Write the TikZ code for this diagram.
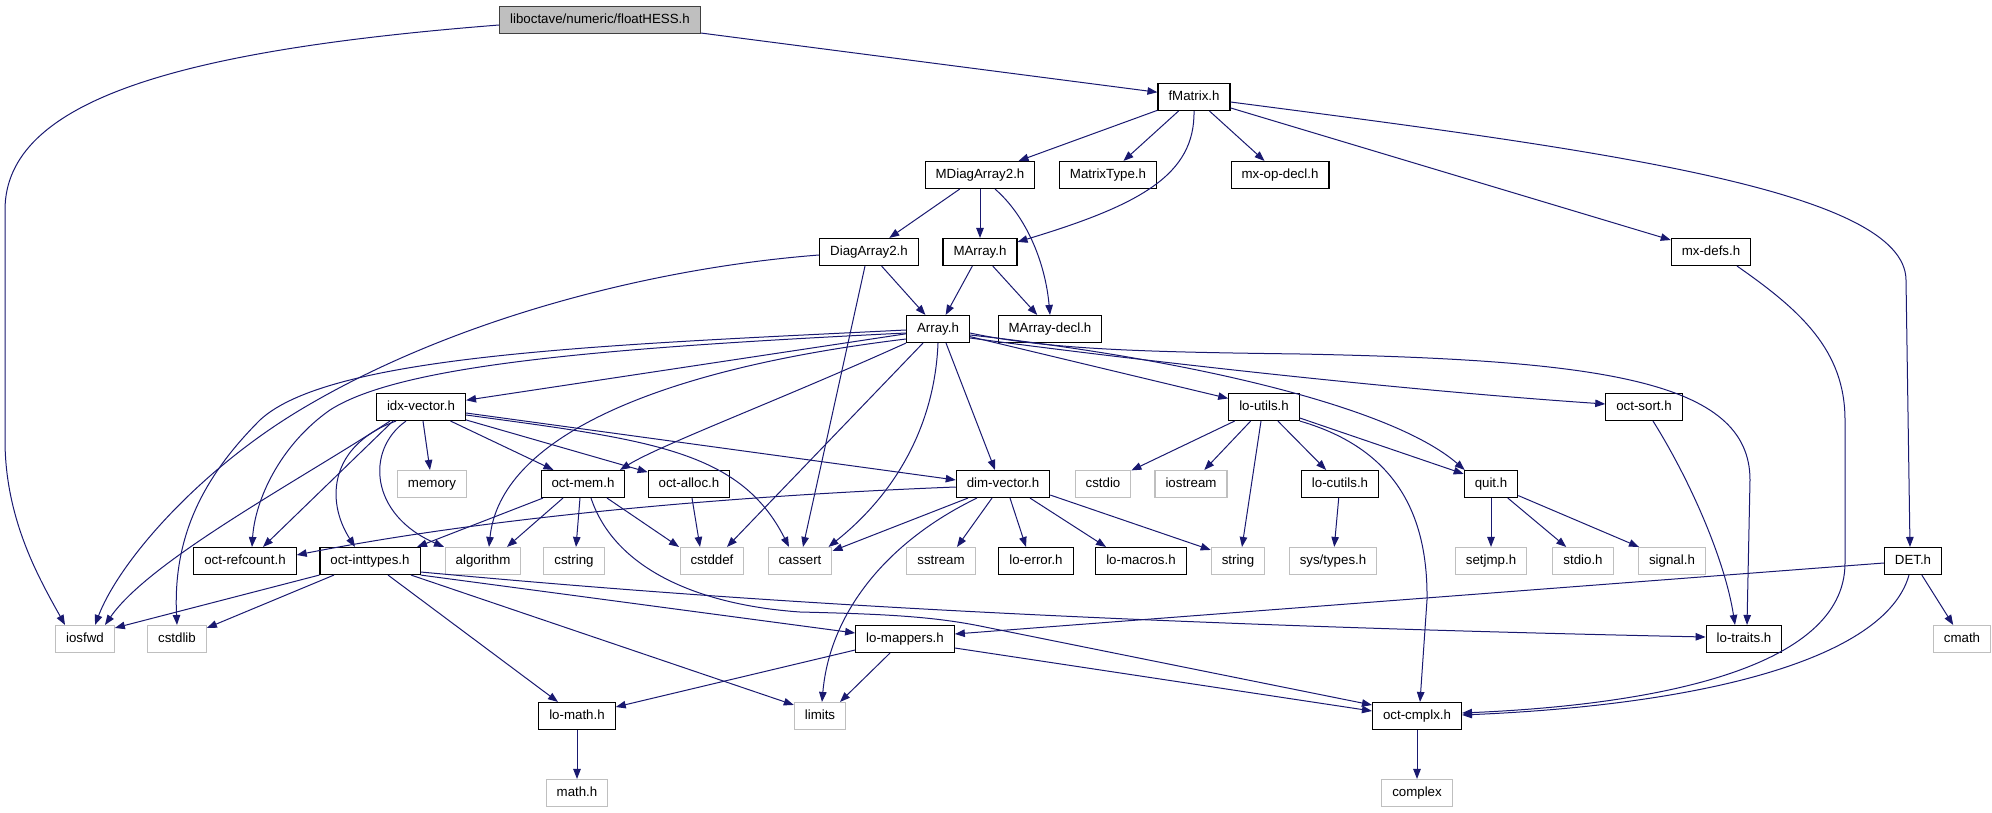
\documentclass[tikz,border=0pt]{standalone}
\usepackage{fontspec}
\setmainfont{Liberation Sans}
\usetikzlibrary{arrows.meta}
\definecolor{edgeblue}{HTML}{191970}
\definecolor{extgrey}{HTML}{BFBFBF}
\definecolor{rootfill}{HTML}{BFBFBF}
\definecolor{rootline}{HTML}{404040}
\begin{document}
\begin{tikzpicture}[x=1pt,y=-1pt,
  box/.style={draw=black, line width=1.1pt, fill=white, inner xsep=10.5pt, inner ysep=0pt,
    minimum height=27pt, text height=9.7pt, text depth=2.7pt, font=\fontsize{13.3}{15}\selectfont},
  ext/.style={box, draw=extgrey},
  root/.style={box, draw=rootline, fill=rootfill},
  e/.style={draw=edgeblue, line width=1pt, -{Triangle[length=10pt,width=7.5pt]}}]
\useasboundingbox (0,0) rectangle (1992,813);

% nodes
\node[root] (floatHESS) at (600,20) {liboctave/numeric/floatHESS.h};
\node[box] (fMatrix) at (1194,97) {fMatrix.h};
\node[box] (MDiagArray2) at (980,175) {MDiagArray2.h};
\node[box] (MatrixType) at (1108,175) {MatrixType.h};
\node[box] (mxopdecl) at (1280,175) {mx-op-decl.h};
\node[box] (DiagArray2) at (869,252) {DiagArray2.h};
\node[box] (MArray) at (980,252) {MArray.h};
\node[box] (mxdefs) at (1711,252) {mx-defs.h};
\node[box] (Array) at (938,329) {Array.h};
\node[box] (MArraydecl) at (1050,329) {MArray-decl.h};
\node[box] (idxvector) at (421,407) {idx-vector.h};
\node[box] (loutils) at (1264,407) {lo-utils.h};
\node[box] (octsort) at (1644,407) {oct-sort.h};
\node[ext] (memory) at (432,484) {memory};
\node[box] (octmem) at (583,484) {oct-mem.h};
\node[box] (octalloc) at (689,484) {oct-alloc.h};
\node[box] (dimvector) at (1003,484) {dim-vector.h};
\node[ext] (cstdio) at (1103,484) {cstdio};
\node[ext] (iostream) at (1191,484) {iostream};
\node[box] (locutils) at (1340,484) {lo-cutils.h};
\node[box] (quit) at (1491,484) {quit.h};
\node[box] (octrefcount) at (245,561) {oct-refcount.h};
\node[box] (octinttypes) at (370,561) {oct-inttypes.h};
\node[ext] (algorithm) at (483,561) {algorithm};
\node[ext] (cstring) at (574,561) {cstring};
\node[ext] (cstddef) at (712,561) {cstddef};
\node[ext] (cassert) at (800,561) {cassert};
\node[ext] (sstream) at (941,561) {sstream};
\node[box] (loerror) at (1036,561) {lo-error.h};
\node[box] (lomacros) at (1141,561) {lo-macros.h};
\node[ext] (string) at (1238,561) {string};
\node[ext] (systypes) at (1333,561) {sys/types.h};
\node[ext] (setjmp) at (1491,561) {setjmp.h};
\node[ext] (stdio) at (1583,561) {stdio.h};
\node[ext] (signal) at (1672,561) {signal.h};
\node[box] (DET) at (1913,561) {DET.h};
\node[ext] (iosfwd) at (85,639) {iosfwd};
\node[ext] (cstdlib) at (177,639) {cstdlib};
\node[box] (lomappers) at (905,639) {lo-mappers.h};
\node[box] (lotraits) at (1744,639) {lo-traits.h};
\node[ext] (cmath) at (1962,639) {cmath};
\node[box] (lomath) at (577,716) {lo-math.h};
\node[ext] (limits) at (820,716) {limits};
\node[box] (octcmplx) at (1417,716) {oct-cmplx.h};
\node[ext] (mathh) at (577,793) {math.h};
\node[ext] (complex) at (1417,793) {complex};

% floatHESS
\draw[e] (floatHESS) -- (fMatrix);
\draw[e] ([yshift=-5pt]floatHESS.west) .. controls (180,50) and (5,100) .. (5,210) -- (5,440)
  .. controls (5,520) and (40,580) .. ([xshift=-20pt]iosfwd.north);

% fMatrix
\draw[e] (fMatrix) -- (MDiagArray2);
\draw[e] (fMatrix) -- (MatrixType);
\draw[e] (fMatrix) -- (mxopdecl);
\draw[e] (fMatrix) -- (mxdefs);
\draw[e] (fMatrix.south) .. controls (1195,175) and (1140,205) .. ([yshift=-4pt]MArray.north east);
\draw[e] ([yshift=-5pt]fMatrix.east) .. controls (1600,150) and (1905,190) .. (1906,280) -- ([xshift=-3pt]DET.north);

% MDiagArray2
\draw[e] (MDiagArray2) -- (DiagArray2);
\draw[e] (MDiagArray2) -- (MArray);
\draw[e] ([xshift=15pt]MDiagArray2.south) .. controls (1025,215) and (1045,260) .. (MArraydecl.north);

% MArray
\draw[e] (MArray) -- (Array);
\draw[e] (MArray) -- (MArraydecl);

% DiagArray2
\draw[e] (DiagArray2) -- (Array);
\draw[e] ([xshift=-4pt]DiagArray2.south) -- ([xshift=3pt]cassert.north);
\draw[e] ([yshift=-3pt]DiagArray2.west) .. controls (650,268) and (450,320) .. (300,410)
  .. controls (200,470) and (120,560) .. ([xshift=10pt]iosfwd.north);

% Array
\draw[e] (Array) -- (idxvector);
\draw[e] ([yshift=-1pt]Array.west) .. controls (600,345) and (330,355) .. (260,420)
  .. controls (200,480) and (173,540) .. (cstdlib.north);
\draw[e] ([yshift=-4pt]Array.west) .. controls (600,348) and (400,365) .. (330,410)
  .. controls (280,445) and (255,500) .. ([xshift=7pt]octrefcount.north);
\draw[e] ([yshift=-10pt]Array.west) .. controls (650,370) and (500,440) .. ([xshift=6pt]algorithm.north);
\draw[e] (Array.south west) .. controls (780,400) and (660,445) .. ([xshift=37pt]octmem.north);
\draw[e] ([xshift=-15pt]Array.south) -- ([xshift=15pt]cstddef.north);
\draw[e] (Array.south) .. controls (935,420) and (900,490) .. ([xshift=-4pt]cassert.north east);
\draw[e] ([xshift=8pt]Array.south) -- ([xshift=-8pt]dimvector.north);
\draw[e] (Array) -- (loutils);
\draw[e] ([yshift=-6pt]Array.east) .. controls (1180,358) and (1390,405) .. ([xshift=1pt]quit.north west);
\draw[e] ([yshift=-9pt]Array.east) .. controls (1150,362) and (1400,390) .. ([yshift=3pt]octsort.west);
\draw[e] ([yshift=-4pt]Array.east) .. controls (1050,350) and (1150,352) .. (1300,354)
  .. controls (1600,360) and (1750,380) .. (1750,480) -- ([xshift=3pt]lotraits.north);

% idx-vector
\draw[e] (idxvector) -- (memory);
\draw[e] (idxvector) -- (octmem);
\draw[e] (idxvector) -- (octalloc);
\draw[e] ([yshift=-6pt]idxvector.east) -- ([yshift=4pt]dimvector.west);
\draw[e] ([yshift=-8pt]idxvector.east) .. controls (650,440) and (740,450) .. ([xshift=-11pt]cassert.north);
\draw[e] ([xshift=-28pt]idxvector.south) -- ([xshift=18pt]octrefcount.north);
\draw[e] ([xshift=-31pt]idxvector.south) .. controls (300,480) and (150,560) .. ([xshift=20pt]iosfwd.north);
\draw[e] ([xshift=-25pt]idxvector.south) .. controls (330,445) and (325,500) .. ([xshift=-15pt]octinttypes.north);
\draw[e] ([xshift=-15pt]idxvector.south) .. controls (365,450) and (370,515) .. ([xshift=-39pt]algorithm.north);

% oct-mem
\draw[e] ([xshift=-40pt]octmem.south) -- ([xshift=47pt]octinttypes.north);
\draw[e] ([xshift=-20pt]octmem.south) -- ([xshift=24pt]algorithm.north);
\draw[e] ([xshift=-3pt]octmem.south) -- ([xshift=2pt]cstring.north);
\draw[e] ([xshift=24pt]octmem.south) -- ([xshift=-33pt]cstddef.north);
\draw[e] ([xshift=8pt]octmem.south) .. controls (615,570) and (700,605) .. (800,612)
  .. controls (880,614) and (930,616) .. (980,626) -- ([yshift=11pt]octcmplx.west);

% oct-alloc
\draw[e] ([xshift=3pt]octalloc.south) -- ([xshift=-12pt]cstddef.north);

% dim-vector
\draw[e] ([yshift=-3pt]dimvector.west) .. controls (750,495) and (500,515) .. ([yshift=6pt]octrefcount.east);
\draw[e] ([xshift=-35pt]dimvector.south) -- ([yshift=-4pt]cassert.north east);
\draw[e] ([xshift=-26pt]dimvector.south) .. controls (890,540) and (830,610) .. ([xshift=2pt]limits.north);
\draw[e] ([xshift=-11pt]dimvector.south) -- ([xshift=16pt]sstream.north);
\draw[e] ([xshift=7pt]dimvector.south) -- ([xshift=-10pt]loerror.north);
\draw[e] ([xshift=27pt]dimvector.south) -- ([xshift=-35pt]lomacros.north);
\draw[e] ([yshift=3pt]dimvector.south east) -- ([yshift=-3pt]string.north west);

% lo-utils
\draw[e] (loutils) -- (cstdio);
\draw[e] (loutils) -- (iostream);
\draw[e] ([xshift=-3pt]loutils.south) -- ([xshift=4pt]string.north);
\draw[e] (loutils) -- (locutils);
\draw[e] ([yshift=-11pt]loutils.east) -- ([yshift=-4pt]quit.north west);
\draw[e] (loutils.south east) .. controls (1400,450) and (1428,520) .. (1427,600) -- ([xshift=3pt]octcmplx.north);

% lo-cutils, quit, oct-sort
\draw[e] (locutils) -- (systypes);
\draw[e] (quit) -- (setjmp);
\draw[e] (quit) -- (stdio);
\draw[e] (quit) -- (signal);
\draw[e] ([xshift=9pt]octsort.south) .. controls (1690,480) and (1725,560) .. ([xshift=-9pt]lotraits.north);

% mx-defs
\draw[e] ([xshift=26pt]mxdefs.south) .. controls (1800,310) and (1845,350) .. (1845,420) -- (1845,563)
  .. controls (1845,670) and (1650,705) .. ([yshift=3pt]octcmplx.east);

% DET
\draw[e] ([yshift=-2pt]DET.west) -- ([yshift=5pt]lomappers.east);
\draw[e] (DET) -- (cmath);
\draw[e] ([xshift=-4pt]DET.south) .. controls (1885,660) and (1700,705) .. ([yshift=1pt]octcmplx.east);

% oct-inttypes
\draw[e] (octinttypes.south west) -- ([yshift=-3pt]iosfwd.north east);
\draw[e] ([xshift=-36pt]octinttypes.south) -- ([yshift=-3pt]cstdlib.north east);
\draw[e] ([xshift=18pt]octinttypes.south) -- ([xshift=-19pt]lomath.north);
\draw[e] ([xshift=41pt]octinttypes.south) -- ([yshift=-3pt]limits.north west);
\draw[e] (octinttypes.south east) -- ([yshift=6pt]lomappers.west);
\draw[e] ([yshift=-11pt]octinttypes.east) .. controls (650,593) and (1000,622) .. ([yshift=2pt]lotraits.west);

% lo-mappers
\draw[e] ([yshift=-11pt]lomappers.west) -- ([yshift=9pt]lomath.east);
\draw[e] ([xshift=-15pt]lomappers.south) -- ([xshift=20pt]limits.north);
\draw[e] ([yshift=-9pt]lomappers.east) -- ([yshift=5pt]octcmplx.west);

% bottom
\draw[e] (lomath) -- (mathh);
\draw[e] (octcmplx) -- (complex);
\end{tikzpicture}
\end{document}
